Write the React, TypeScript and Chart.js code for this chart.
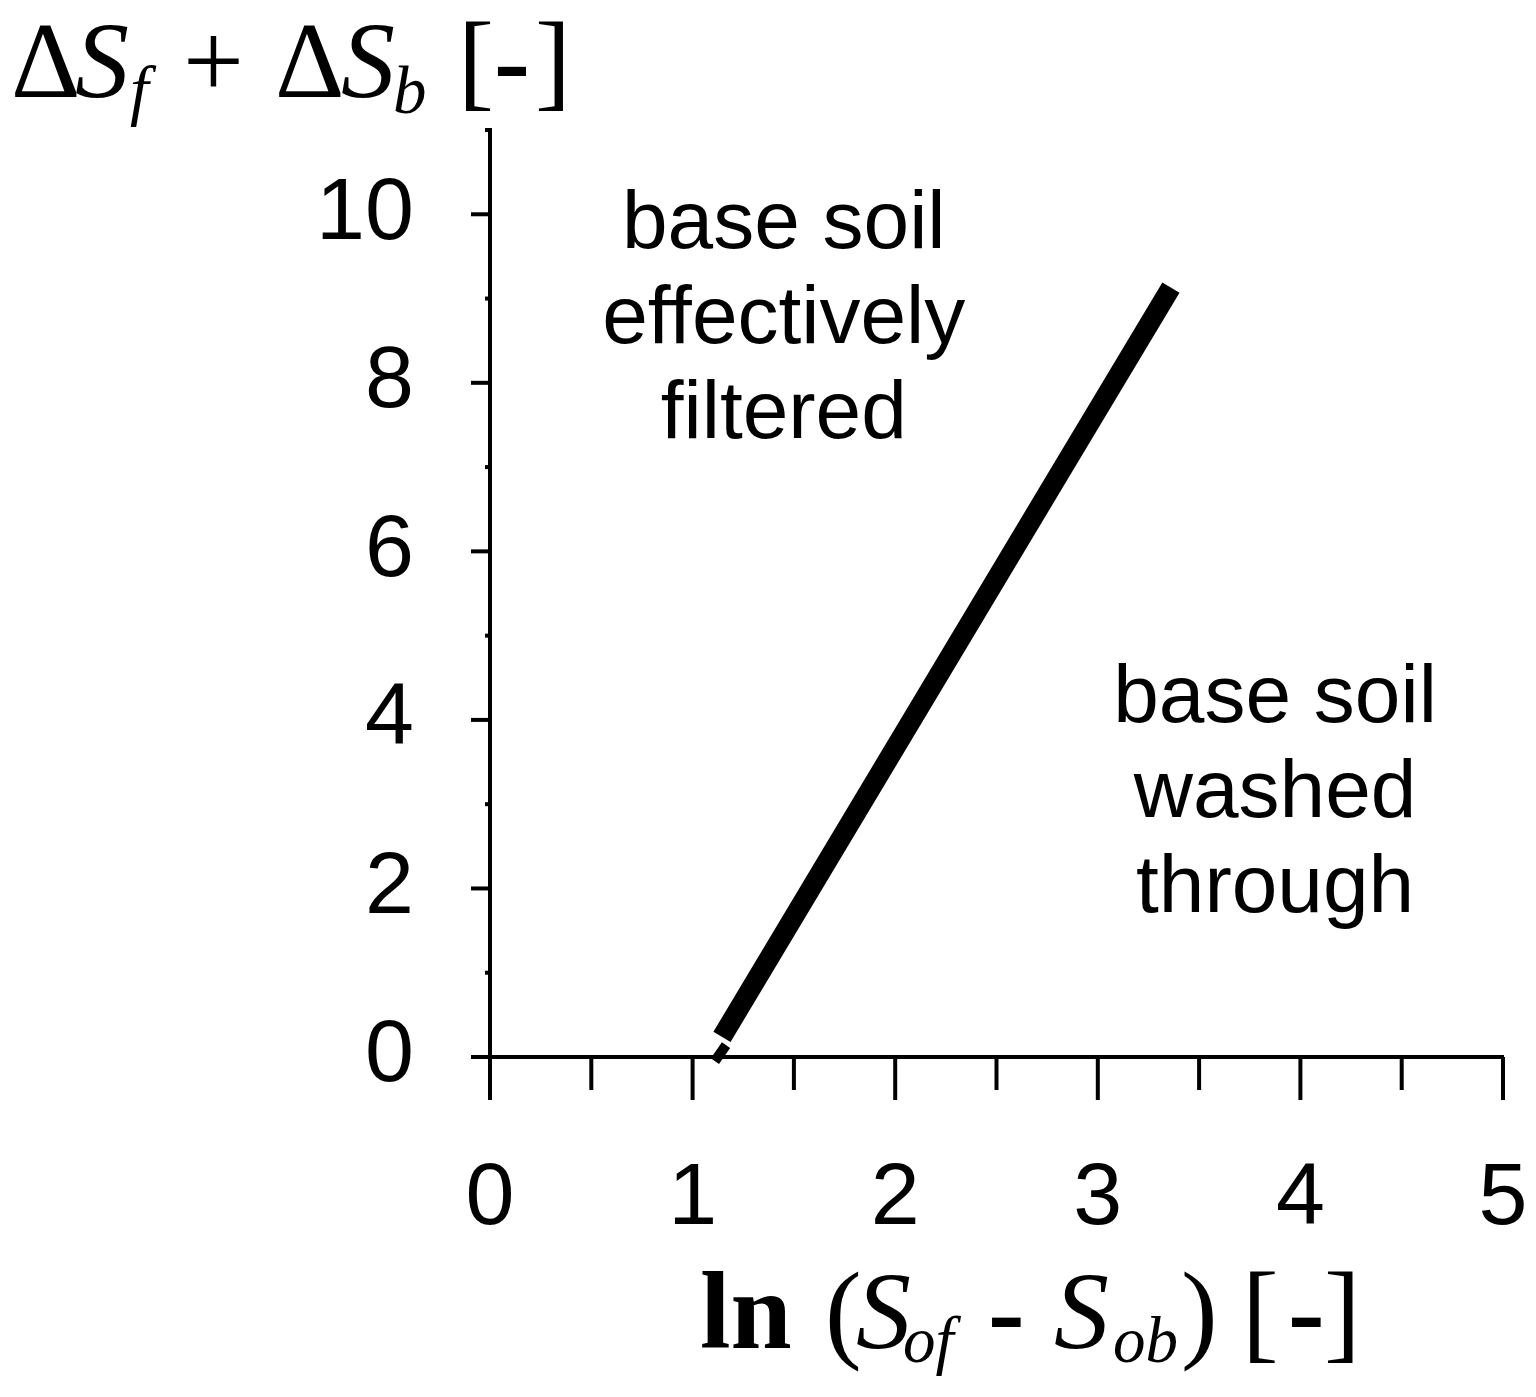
import React, { useEffect, useRef } from 'react';
import { Chart, registerables } from 'chart.js';

Chart.register(...registerables);

// ---- data ----
const X_TICKS = [0, 1, 2, 3, 4, 5];
const X_MINOR_TICKS = [0.5, 1.5, 2.5, 3.5, 4.5];
const Y_TICKS = [0, 2, 4, 6, 8, 10];
const Y_MINOR_TICKS = [1, 3, 5, 7, 9, 11];

const LINE_X = [1.145, 2.78, 3.361];
const LINE_Y = [0.24, 6.8, 9.13];
const STUB_X = [1.11, 1.165];
const STUB_Y = [-0.05, 0.14];

const ANNOT_LEFT = ['base soil', 'effectively', 'filtered'];
const ANNOT_RIGHT = ['base soil', 'washed', 'through'];
const ANNOT_LEFT_POS = [1.45, 9.6];
const ANNOT_RIGHT_POS = [3.875, 3.98];

const SANS = '"Liberation Sans", Arial, sans-serif';
const SERIF = '"Liberation Serif", "Times New Roman", serif';

type Piece = { t: string; font: string; x: number; y: number };

const Y_TITLE: Piece[] = [
  { t: 'Δ', font: `108px ${SERIF}`, x: 11, y: 97 },
  { t: 'S', font: `italic 108px ${SERIF}`, x: 75, y: 97 },
  { t: 'f', font: `italic 67px ${SERIF}`, x: 130, y: 113 },
  { t: '+', font: `108px ${SERIF}`, x: 183, y: 97 },
  { t: 'Δ', font: `108px ${SERIF}`, x: 275, y: 97 },
  { t: 'S', font: `italic 108px ${SERIF}`, x: 341, y: 97 },
  { t: 'b', font: `italic 67px ${SERIF}`, x: 393, y: 113 },
  { t: '[', font: `108px ${SERIF}`, x: 458, y: 97 },
  { t: '-', font: `bold 108px ${SERIF}`, x: 494, y: 97 },
  { t: ']', font: `108px ${SERIF}`, x: 535, y: 97 },
];

const X_TITLE: Piece[] = [
  { t: 'ln', font: `bold 110px ${SERIF}`, x: 700, y: 1348 },
  { t: '(', font: `110px ${SERIF}`, x: 825, y: 1348 },
  { t: 'S', font: `italic 110px ${SERIF}`, x: 856, y: 1348 },
  { t: 'of', font: `italic 65px ${SERIF}`, x: 903, y: 1362 },
  { t: '-', font: `bold 110px ${SERIF}`, x: 988, y: 1348 },
  { t: 'S', font: `italic 110px ${SERIF}`, x: 1054, y: 1348 },
  { t: 'ob', font: `italic 65px ${SERIF}`, x: 1113, y: 1362 },
  { t: ')', font: `110px ${SERIF}`, x: 1181, y: 1348 },
  { t: '[', font: `110px ${SERIF}`, x: 1242, y: 1348 },
  { t: '-', font: `bold 110px ${SERIF}`, x: 1288, y: 1348 },
  { t: ']', font: `110px ${SERIF}`, x: 1324, y: 1348 },
];

const toPts = (xs: number[], ys: number[]) => xs.map((x, i) => ({ x, y: ys[i] }));

const decorPlugin = {
  id: 'decor',
  afterDraw(chart: any) {
    const { ctx, scales } = chart;
    const xs = scales.x;
    const ys = scales.y;
    const y0 = ys.getPixelForValue(0);
    const x0 = xs.getPixelForValue(0);
    ctx.save();
    ctx.strokeStyle = '#000';
    ctx.lineWidth = 4;
    ctx.lineCap = 'butt';
    const seg = (a: number, b: number, c: number, d: number) => {
      ctx.beginPath();
      ctx.moveTo(a, b);
      ctx.lineTo(c, d);
      ctx.stroke();
    };
    X_TICKS.forEach((v) => {
      const p = xs.getPixelForValue(v);
      seg(p, y0, p, y0 + 43);
    });
    X_MINOR_TICKS.forEach((v) => {
      const p = xs.getPixelForValue(v);
      seg(p, y0, p, y0 + 33);
    });
    Y_TICKS.forEach((v) => {
      const p = ys.getPixelForValue(v);
      seg(x0 - 19, p, x0, p);
    });
    Y_MINOR_TICKS.forEach((v) => {
      const p = ys.getPixelForValue(v);
      seg(x0 - 5, p, x0, p);
    });

    ctx.fillStyle = '#000';
    ctx.textAlign = 'center';
    ctx.textBaseline = 'alphabetic';
    ctx.font = `82px ${SANS}`;
    const drawBlock = (lines: string[], pos: number[]) => {
      const cx = xs.getPixelForValue(pos[0]);
      const by = ys.getPixelForValue(pos[1]);
      lines.forEach((l, i) => ctx.fillText(l, cx, by + i * 95));
    };
    drawBlock(ANNOT_LEFT, ANNOT_LEFT_POS);
    drawBlock(ANNOT_RIGHT, ANNOT_RIGHT_POS);

    ctx.textAlign = 'left';
    [...Y_TITLE, ...X_TITLE].forEach((p) => {
      ctx.font = p.font;
      ctx.fillText(p.t, p.x, p.y);
    });
    ctx.restore();
  },
};

export default function App() {
  const ref = useRef<HTMLCanvasElement | null>(null);
  useEffect(() => {
    if (!ref.current) return;
    const lineDs = (data: any[], width: number) => ({
      data,
      borderColor: '#000',
      backgroundColor: '#000',
      borderWidth: width,
      borderCapStyle: 'butt',
      borderJoinStyle: 'miter',
      pointRadius: 0,
      showLine: true,
      fill: false,
      tension: 0,
      clip: false as any,
    });
    const chart = new Chart(ref.current, {
      type: 'scatter',
      data: {
        datasets: [
          lineDs(toPts(LINE_X, LINE_Y), 20),
          lineDs(toPts(STUB_X, STUB_Y), 10),
        ],
      },
      options: {
        animation: false,
        responsive: false,
        devicePixelRatio: 1,
        layout: { padding: { top: 130, right: 33, left: 0, bottom: 0 } },
        plugins: { legend: { display: false }, tooltip: { enabled: false } },
        scales: {
          x: {
            type: 'linear',
            position: 'bottom',
            min: 0,
            max: 5,
            afterFit: (s: any) => {
              s.height = 340;
            },
            grid: { display: false, drawTicks: false },
            border: { display: true, color: '#000', width: 4 },
            ticks: {
              stepSize: 1,
              autoSkip: false,
              maxRotation: 0,
              padding: 0,
              color: '#000',
              font: { family: SANS, size: 88, lineHeight: 3.25 },
            },
          },
          y: {
            type: 'linear',
            position: 'left',
            min: 0,
            max: 11,
            afterFit: (s: any) => {
              s.width = 490;
            },
            grid: { display: false, drawTicks: false },
            border: { display: true, color: '#000', width: 4 },
            ticks: {
              stepSize: 1,
              autoSkip: false,
              padding: 76,
              color: '#000',
              font: { family: SANS, size: 88, lineHeight: 1 },
              callback: (v: any) => (Y_TICKS.includes(Number(v)) ? String(v) : ''),
            },
          },
        },
      },
      plugins: [decorPlugin],
    } as any);
    return () => chart.destroy();
  }, []);
  return (
    <div style={{ position: 'absolute', left: 0, top: 0, width: 1536, height: 1397, background: '#fff' }}>
      <canvas ref={ref} width={1536} height={1397} style={{ width: 1536, height: 1397, display: 'block' }} />
    </div>
  );
}
